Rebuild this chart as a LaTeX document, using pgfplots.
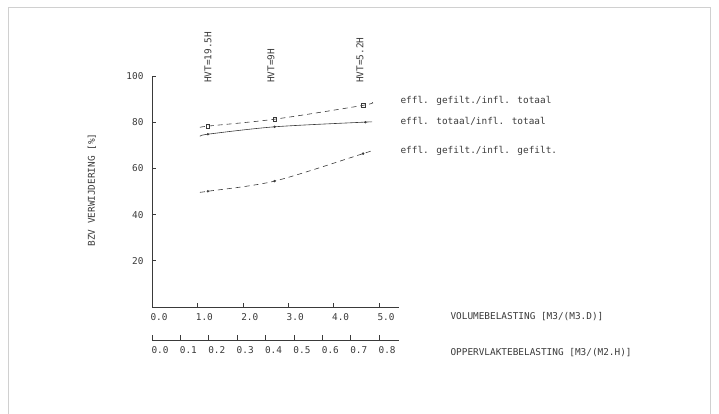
\documentclass[border=0pt]{standalone}
\usepackage{fontspec}
\setmainfont{DejaVu Sans Mono}
\usepackage{pgfplots}
\pgfplotsset{compat=1.18}
\definecolor{ink}{HTML}{3A3A3A}
\definecolor{framec}{HTML}{D0D0D0}
\begin{document}
\begin{tikzpicture}[font=\fontsize{9.4}{11}\selectfont, text=ink]
\useasboundingbox (0pt,0pt) rectangle (719pt,414pt);
\draw[framec, line width=0.8pt] (8pt,0pt) -- (8pt,407pt) -- (710pt,407pt) -- (710pt,0pt);
\begin{axis}[
  at={(152pt,107pt)}, anchor=south west,
  scale only axis, width=247pt, height=231pt,
  xmin=0, xmax=5.44, ymin=0, ymax=100,
  axis x line*=bottom, axis y line*=left,
  axis line style={ink, line width=0.6pt, -},
  xtick={0,1,2,3,4,5}, xticklabels={0.0,1.0,2.0,3.0,4.0,5.0},
  ytick={20,40,60,80,100},
  tick align=inside, major tick length=4pt,
  tick style={ink, line width=0.6pt},
  /pgf/number format/assume math mode=true,
  xticklabel style={xshift=7pt, yshift=-3pt},
  yticklabel style={xshift=-5pt},
  clip=false,
]
\addplot[ink, line width=0.6pt, dash pattern=on 5pt off 4pt, smooth] coordinates {(1.06,77.7)(1.23,78.3)(2.70,81.3)(4.65,87.3)(4.85,88.6)};
\addplot[ink, line width=0.6pt, smooth] coordinates {(1.06,73.8)(1.23,74.8)(2.70,78.0)(4.65,80.0)(4.82,80.1)};
\addplot[ink, line width=0.6pt, dash pattern=on 5pt off 4pt, smooth] coordinates {(1.06,49.7)(1.23,50.1)(2.70,54.5)(4.65,66.4)(4.85,67.7)};
\addplot[only marks, mark=square, mark size=1.7pt, ink, line width=0.5pt] coordinates {(1.23,78.3)(2.70,81.3)(4.65,87.3)};
\addplot[only marks, mark=*, mark size=1pt, ink] coordinates {(1.23,74.8)(2.70,78.0)(4.70,80.0)};
\addplot[only marks, mark=*, mark size=1pt, ink] coordinates {(1.23,50.1)(2.70,54.5)(4.65,66.4)};
\end{axis}
\begin{axis}[
  at={(152pt,74pt)}, anchor=south west,
  scale only axis, width=247pt, height=10pt,
  xmin=0, xmax=0.870, ymin=0, ymax=1,
  axis x line*=bottom, axis y line=none,
  axis line style={ink, line width=0.6pt, -},
  xtick={0,0.1,0.2,0.3,0.4,0.5,0.6,0.7,0.8},
  xticklabels={0.0,0.1,0.2,0.3,0.4,0.5,0.6,0.7,0.8},
  tick align=inside, major tick length=5pt,
  tick style={ink, line width=0.6pt},
  /pgf/number format/assume math mode=true,
  xticklabel style={xshift=8pt, yshift=-3pt},
]
\addplot[draw=none] coordinates {(0,0)};
\end{axis}
\node[anchor=west] at (397pt,313pt) {effl. gefilt./infl. totaal};
\node[anchor=west] at (397pt,293pt) {effl. totaal/infl. totaal};
\node[anchor=west] at (397pt,263pt) {effl. gefilt./infl. gefilt.};
\node[anchor=west] at (447pt,97pt) {VOLUMEBELASTING [M3/(M3.D)]};
\node[anchor=west] at (447pt,61pt) {OPPERVLAKTEBELASTING [M3/(M2.H)]};
\node[rotate=90] at (92pt,224pt) {BZV VERWIJDERING [\%]};
\node[rotate=90, anchor=west, inner sep=0pt] at (208pt,331pt) {HVT=19.5H};
\node[rotate=90, anchor=west, inner sep=0pt] at (271pt,331pt) {HVT=9H};
\node[rotate=90, anchor=west, inner sep=0pt] at (360pt,331pt) {HVT=5.2H};
\end{tikzpicture}
\end{document}
